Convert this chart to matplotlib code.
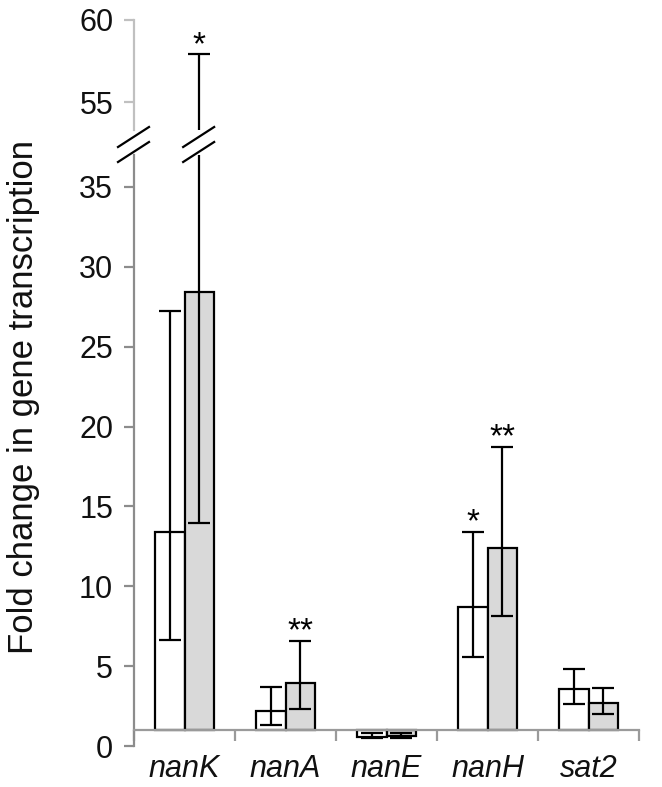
import numpy as np
import matplotlib
matplotlib.use("Agg")
import matplotlib.pyplot as plt
from matplotlib.lines import Line2D
from matplotlib.transforms import IdentityTransform

plt.rcParams['font.family'] = ['Liberation Sans', 'DejaVu Sans']

categories = ['nanK', 'nanA', 'nanE', 'nanH', 'sat2']
ctrl = [13.4, 2.21, 0.57, 8.68, 3.55]
ctrl_lo = [6.64, 1.31, 0.48, 5.59, 2.63]
ctrl_hi = [27.25, 3.71, 0.80, 13.42, 4.84]
treat = [28.4, 3.92, 0.62, 12.38, 2.71]
treat_lo = [13.96, 2.32, 0.52, 8.16, 2.00]
treat_hi = [57.9, 6.6, 0.80, 18.74, 3.61]
ctrl_sig = ['', '', '', '*', '']
treat_sig = ['*', '**', '', '**', '']
baseline = 1.0
low_ticks = [0, 5, 10, 15, 20, 25, 30, 35]
high_ticks = [55, 60]

W, H = 662, 787
fig = plt.figure(figsize=(W / 100, H / 100), dpi=100)
ax = fig.add_axes([134 / W, (H - 746) / H, 505 / W, 591 / H])
axt = fig.add_axes([134 / W, (H - 130) / H, 505 / W, 110 / H])

x = np.arange(len(categories))
w = 0.29
ctrl_a = np.array(ctrl)
treat_a = np.array(treat)
ctrl_err = np.vstack([ctrl_a - np.array(ctrl_lo), np.array(ctrl_hi) - ctrl_a])
treat_err = np.vstack([treat_a - np.array(treat_lo), np.array(treat_hi) - treat_a])

for a in (ax, axt):
    a.bar(x - w / 2, ctrl_a - baseline, bottom=baseline, width=w,
          color='white', edgecolor='black', linewidth=1.6, zorder=2)
    a.bar(x + w / 2, treat_a - baseline, bottom=baseline, width=w,
          color='#d9d9d9', edgecolor='black', linewidth=1.6, zorder=2)
    a.errorbar(x - w / 2, ctrl_a, yerr=ctrl_err, fmt='none', ecolor='black',
               elinewidth=1.6, capsize=8, capthick=1.6, zorder=3)
    a.errorbar(x + w / 2, treat_a, yerr=treat_err, fmt='none', ecolor='black',
               elinewidth=1.6, capsize=8, capthick=1.6, zorder=3)
    a.set_xlim(-0.5, len(categories) - 0.5)
    a.set_facecolor('none')
    for s in ('top', 'right'):
        a.spines[s].set_visible(False)

ax.set_ylim(0, 37)
axt.set_ylim(53.3, 60)

def put_sig(xs, tops, labels):
    for xi, t, lab in zip(xs, tops, labels):
        if not lab:
            continue
        target = axt if t > 37 else ax
        target.annotate(lab, (xi, t), xytext=(0, 0), textcoords='offset points',
                        ha='center', va='baseline', fontsize=24, annotation_clip=False)

put_sig(x - w / 2, ctrl_hi, ctrl_sig)
put_sig(x + w / 2, treat_hi, treat_sig)

# lower axes styling
ax.spines['left'].set_color('#8c8c8c')
ax.spines['left'].set_linewidth(1.6)
ax.spines['bottom'].set_color('#9a9a9a')
ax.spines['bottom'].set_linewidth(1.6)
ax.spines['bottom'].set_position(('data', baseline))
ax.set_yticks(low_ticks)
ax.set_yticklabels([str(t) for t in low_ticks])
ax.tick_params(axis='y', direction='out', length=7, width=1.6, color='#8c8c8c',
               labelsize=22, pad=8, labelcolor='#111111')
ax.set_xticks(np.arange(-0.5, len(categories), 1.0))
ax.set_xticklabels([])
ax.set_xticks(x, minor=True)
ax.set_xticklabels(categories, minor=True, fontstyle='italic', fontsize=22)
ax.tick_params(axis='x', which='major', direction='out', length=8, width=1.6,
               color='#9a9a9a')
ax.tick_params(axis='x', which='minor', length=0, pad=17, labelcolor='#111111')
ax.set_ylabel('Fold change in gene transcription', fontsize=25,
              color='#111111', va='center')
ax.yaxis.set_label_coords(-0.218, 0.59)

# upper axes styling
axt.spines['bottom'].set_visible(False)
axt.spines['left'].set_color('#c0c0c0')
axt.spines['left'].set_linewidth(1.6)
axt.set_yticks(high_ticks)
axt.set_yticklabels([str(t) for t in high_ticks])
axt.tick_params(axis='y', direction='out', length=7, width=1.6, color='#c0c0c0',
                labelsize=22, pad=8, labelcolor='#111111')
axt.set_xticks([])

# break marks
fig.canvas.draw()
xl = ax.transData.transform((-0.5, 0))[0]
xe = ax.transData.transform((x[0] + w / 2, 0))[0]
for xc in (xl, xe):
    for dy in (0, 15):
        y0 = H - (147 + dy)
        y1 = H - (127 + dy)
        fig.add_artist(Line2D([xc - 16, xc + 15], [y0, y1], transform=IdentityTransform(),
                              color='black', linewidth=1.6))

fig.savefig('out.png', dpi=100)
